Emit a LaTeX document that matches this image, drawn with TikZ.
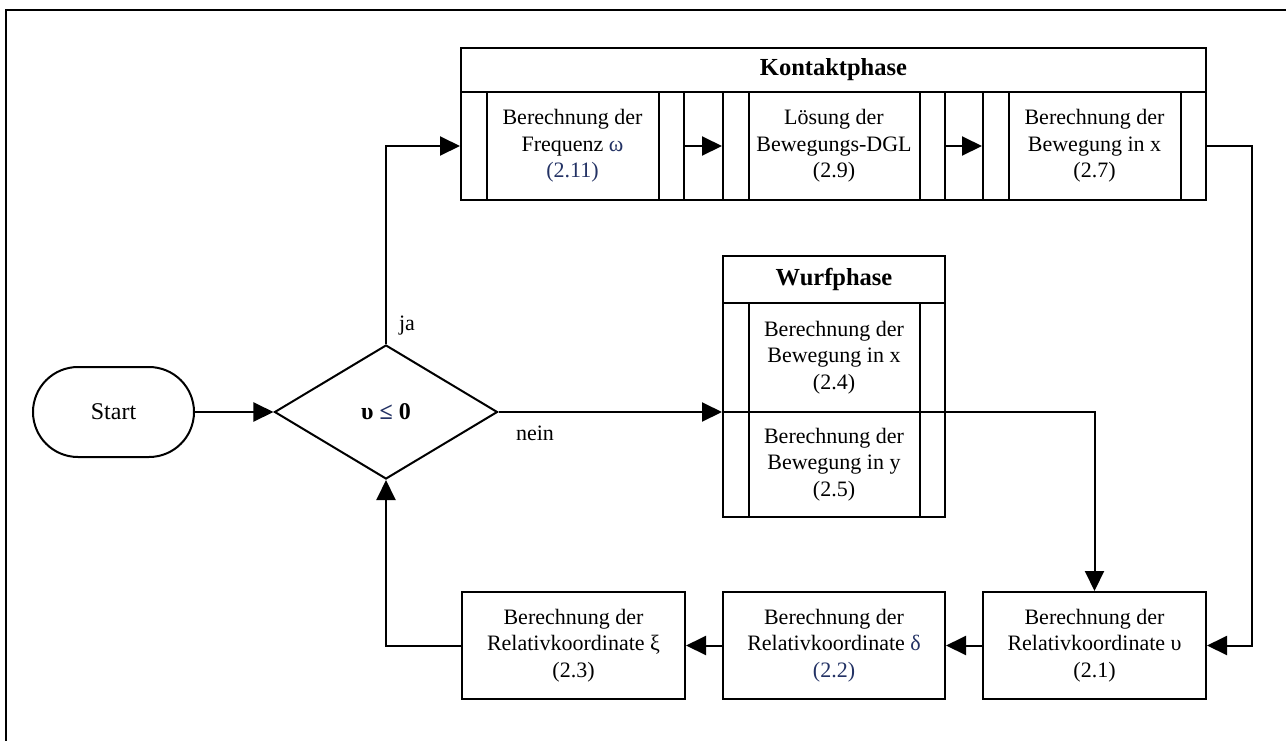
\documentclass[tikz,border=0pt]{standalone}
\usepackage{fontspec}
\setmainfont{Liberation Serif}
\usetikzlibrary{arrows.meta,shapes.geometric,calc}
\definecolor{eqblue}{RGB}{35,50,100}
\begin{document}
\begin{tikzpicture}[x=1pt,y=-1pt,
  line width=2pt,
  font=\fontsize{22}{26.5}\selectfont,
  arr/.style={-{Triangle[length=20pt,width=19pt]}},
  proc/.style={draw, align=center, inner sep=0pt, minimum width=223pt},
  head/.style={draw, align=center, inner sep=0pt, font=\fontsize{24.5}{28}\selectfont\bfseries},
  lbl/.style={inner sep=0pt}]
\useasboundingbox (0,0) rectangle (1286,740);
% outer frame (cut off at right and bottom)
\draw (6,760) -- (6,10) -- (1300,10);

% Start and decision
\node[draw, rounded corners=45pt, minimum width=161pt, minimum height=90pt, inner sep=0pt, font=\fontsize{24}{28}\selectfont] (start) at (113.5,412) {Start};
\node[draw, diamond, minimum width=223pt, minimum height=134pt, inner sep=0pt, font=\fontsize{24}{28}\selectfont\bfseries] (dec) at (386,412) {υ {\color{eqblue}≤} 0};

% Kontaktphase
\node[draw, minimum width=745pt, minimum height=152pt, inner sep=0pt] (kontakt) at (833.5,124) {};
\node[head, minimum width=745pt, minimum height=44pt] (khead) at (833.5,70) {Kontaktphase};
\node[proc, minimum height=108pt] (k1) at (572.5,146) {Berechnung der\\Frequenz {\color{eqblue}ω}\\{\color{eqblue}(2.11)}};
\node[proc, minimum width=222pt, minimum height=108pt] (k2) at (834,146) {Lösung der\\Bewegungs-DGL\\(2.9)};
\node[proc, minimum height=108pt] (k3) at (1094.5,146) {Berechnung der\\Bewegung in x\\(2.7)};

% Wurfphase
\node[draw, minimum width=222pt, minimum height=261pt, inner sep=0pt] (wurf) at (834,386.5) {};
\node[head, minimum width=222pt, minimum height=47pt] (whead) at (834,279.5) {Wurfphase};
\node[proc, minimum width=222pt, minimum height=109pt] (w1) at (834,357.5) {Berechnung der\\Bewegung in x\\(2.4)};
\node[proc, minimum width=222pt, minimum height=105pt] (w2) at (834,464.5) {Berechnung der\\Bewegung in y\\(2.5)};

% predefined-process bars
\foreach \n in {k1,k2,k3,w1,w2}{
  \draw ([xshift=26.5pt]\n.north west) -- ([xshift=26.5pt]\n.south west);
  \draw ([xshift=-26.5pt]\n.north east) -- ([xshift=-26.5pt]\n.south east);
}

% bottom row
\node[proc, minimum height=107pt] (bu) at (1094.5,645.5) {Berechnung der\\Relativkoordinate υ\\(2.1)};
\node[proc, minimum width=222pt, minimum height=107pt] (bd) at (834,645.5) {Berechnung der\\Relativkoordinate {\color{eqblue}δ}\\{\color{eqblue}(2.2)}};
\node[proc, minimum height=107pt] (bx) at (573.5,645.5) {Berechnung der\\Relativkoordinate ξ\\(2.3)};

% connectors
\coordinate (wl) at (wurf.west |- dec.east);
\coordinate (wr) at (wurf.east |- dec.east);
\coordinate (rx) at (1252,146);
\draw[arr] (start) -- (dec);
\draw[arr] (dec.north) |- (k1.west);
\node[lbl, anchor=west] (ja) at ([xshift=12pt, yshift=18pt]dec.north) {ja};
\draw[arr] (dec.east) -- (wl);
\node[lbl] (nein) at (535,433) {nein};
\draw[arr] (k1) -- (k2);
\draw[arr] (k2) -- (k3);
\draw[arr] (k3.east) -- (rx) |- (bu.east);
\draw[arr] (wr) -| (bu.north);
\draw[arr] (bu) -- (bd);
\draw[arr] (bd) -- (bx);
\draw[arr] (bx.west) -| (dec.south);
\end{tikzpicture}
\end{document}
